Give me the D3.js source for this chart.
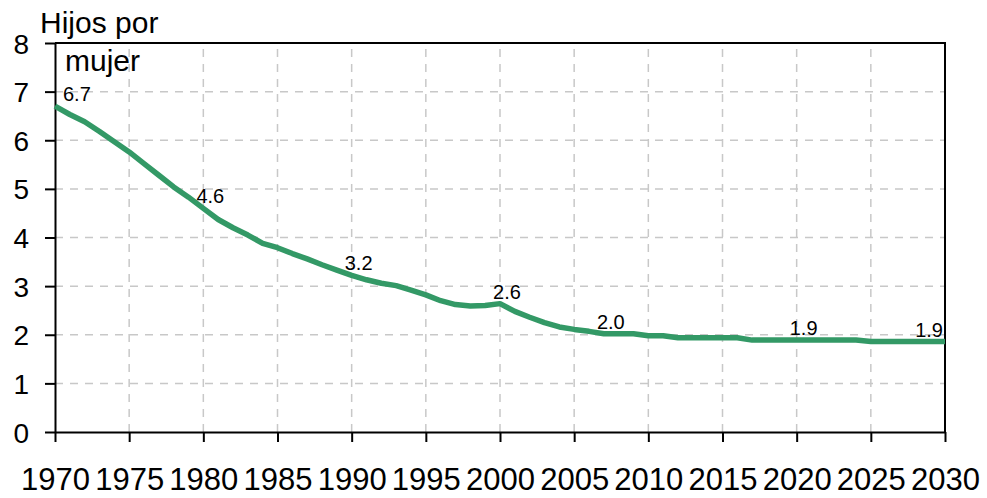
<!DOCTYPE html>
<html>
<head>
<meta charset="utf-8">
<script src="https://cdn.jsdelivr.net/npm/d3@7"></script>
<style>
  body { margin: 0; background: #fff; }
  svg text { font-family: "Liberation Sans", Arial, sans-serif; fill: #000; }
</style>
</head>
<body>
<div id="chart"></div>
<script>
const years = d3.range(1970, 2031);
const fertility = [
  6.70, 6.53, 6.38, 6.18, 5.97, 5.76, 5.52, 5.28, 5.04, 4.83,
  4.60, 4.37, 4.20, 4.05, 3.88, 3.79, 3.67, 3.56, 3.44, 3.33,
  3.22, 3.13, 3.06, 3.01, 2.92, 2.82, 2.70, 2.62, 2.59, 2.60,
  2.64, 2.48, 2.36, 2.25, 2.16, 2.11, 2.07, 2.02, 2.02, 2.02,
  1.98, 1.98, 1.94, 1.94, 1.94, 1.94, 1.94, 1.89, 1.89, 1.89,
  1.89, 1.89, 1.89, 1.89, 1.89, 1.86, 1.86, 1.86, 1.86, 1.86,
  1.86
];
const labelYears = [1970, 1980, 1990, 2000, 2007, 2020, 2030];
const xTicks = d3.range(1970, 2031, 5);
const yTicks = d3.range(0, 9);

const width = 987;
const height = 498;
const margin = { top: 43, right: 42, bottom: 66, left: 55 };

const data = years.map((y, i) => ({ year: y, value: fertility[i] }));

const svg = d3.select('#chart')
  .append('svg')
  .attr('width', width)
  .attr('height', height);

const x = d3.scaleLinear()
  .domain([1970, 2030])
  .range([margin.left, width - margin.right]);

const y = d3.scaleLinear()
  .domain([0, 8])
  .range([height - margin.bottom, margin.top]);

// grid
svg.append('g')
  .selectAll('line')
  .data(yTicks.slice(1, -1))
  .join('line')
  .attr('x1', x(1970)).attr('x2', x(2030))
  .attr('y1', d => y(d)).attr('y2', d => y(d))
  .attr('stroke', '#c8c8c8')
  .attr('stroke-width', 1.5)
  .attr('stroke-dasharray', '8,7');

svg.append('g')
  .selectAll('line')
  .data(xTicks.slice(1, -1))
  .join('line')
  .attr('x1', d => x(d)).attr('x2', d => x(d))
  .attr('y1', y(0)).attr('y2', y(8))
  .attr('stroke', '#c8c8c8')
  .attr('stroke-width', 1.5)
  .attr('stroke-dasharray', '8,7');

// frame top/right
svg.append('path')
  .attr('d', `M${x(1970)},${y(8)}H${x(2030)}V${y(0)}`)
  .attr('fill', 'none')
  .attr('stroke', '#000')
  .attr('stroke-width', 2);

function xAxis(g) {
  g.attr('transform', `translate(0,${y(0)})`)
    .call(d3.axisBottom(x).tickValues(xTicks).tickFormat(d3.format('d')).tickSize(10).tickSizeOuter(0))
    .call(g => g.selectAll('.domain, line').attr('stroke', '#000').attr('stroke-width', 2))
    .call(g => g.selectAll('text')
      .attr('font-size', '31px')
      .attr('y', 58)
      .attr('dy', 0));
}

function yAxis(g) {
  g.attr('transform', `translate(${x(1970)},0)`)
    .call(d3.axisLeft(y).tickValues(yTicks).tickSize(10).tickSizeOuter(0).tickPadding(16))
    .call(g => g.selectAll('.domain, line').attr('stroke', '#000').attr('stroke-width', 2))
    .call(g => g.selectAll('text').attr('font-size', '28px').attr('dy', '0.36em'));
}

svg.append('g').call(yAxis);
svg.append('g').call(xAxis);
svg.selectAll('.tick text').attr('font-family', '"Liberation Sans", Arial, sans-serif');

// line
const line = d3.line()
  .x(d => x(d.year))
  .y(d => y(d.value));

svg.append('path')
  .datum(data)
  .attr('fill', 'none')
  .attr('stroke', '#339966')
  .attr('stroke-width', 5.5)
  .attr('stroke-linejoin', 'round')
  .attr('d', line);

// data labels
const fmt = d3.format('.1f');
svg.append('g')
  .selectAll('text')
  .data(data.filter(d => labelYears.includes(d.year)))
  .join('text')
  .attr('font-size', '20px')
  .attr('text-anchor', 'middle')
  .attr('y', d => y(d.value) - 5)
  .text(d => fmt(d.value))
  .attr('x', function (d) {
    const w = this.getComputedTextLength();
    const cx = x(d.year) + 7;
    return Math.max(x(1970) + 8 + w / 2, Math.min(x(2030) - 2 - w / 2, cx));
  });

// title
svg.append('text')
  .attr('x', 40).attr('y', 33)
  .attr('font-size', '30px')
  .text('Hijos por');
svg.append('text')
  .attr('x', 65).attr('y', 71)
  .attr('font-size', '30px')
  .text('mujer');
</script>
</body>
</html>
